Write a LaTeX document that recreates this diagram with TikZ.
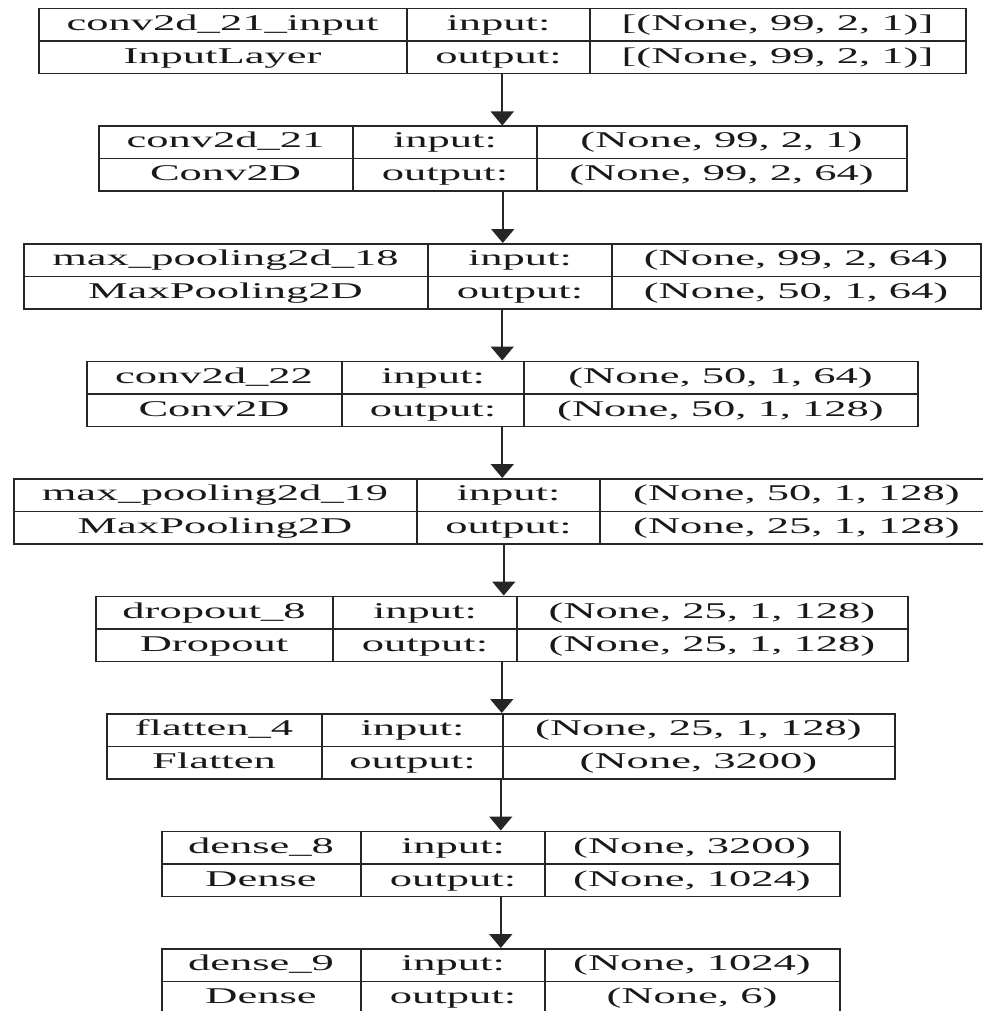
\documentclass[tikz,border=0pt]{standalone}
\usepackage{fontspec}
\setmainfont{Liberation Serif}[FakeStretch=1.98]
\usetikzlibrary{arrows.meta}

\begin{document}
\begin{tikzpicture}[x=1pt,y=-1pt,
    box/.style={draw=black!85,line width=1.5pt,minimum height=65pt,inner sep=0pt,anchor=north west},
    txt/.style={anchor=base,text=black!90,font=\fontsize{22.5}{26}\selectfont,inner sep=0pt},
    arr/.style={draw=black!85,line width=1.8pt,-{Triangle[width=23pt,length=14pt]}}]
  \useasboundingbox (0,0) rectangle (982,1011);
  % one record per layer: left edge, the two dividers, right edge, texts
  \foreach \i/\xl/\xa/\xb/\xr/\nm/\cl/\si/\so in {
      1/38/407/590/965/conv2d\_21\_input/InputLayer/{[(None, 99, 2, 1)]}/{[(None, 99, 2, 1)]},
      2/98/353/537/906/conv2d\_21/Conv2D/{(None, 99, 2, 1)}/{(None, 99, 2, 64)},
      3/23/428/612/980/max\_pooling2d\_18/MaxPooling2D/{(None, 99, 2, 64)}/{(None, 50, 1, 64)},
      4/86/342/524/917/conv2d\_22/Conv2D/{(None, 50, 1, 64)}/{(None, 50, 1, 128)},
      5/13/417/600/993/max\_pooling2d\_19/MaxPooling2D/{(None, 50, 1, 128)}/{(None, 25, 1, 128)},
      6/95/333/517/907/dropout\_8/Dropout/{(None, 25, 1, 128)}/{(None, 25, 1, 128)},
      7/106/322/503/894/flatten\_4/Flatten/{(None, 25, 1, 128)}/{(None, 3200)},
      8/161/361/545/839/dense\_8/Dense/{(None, 3200)}/{(None, 1024)},
      9/161/361/545/839/dense\_9/Dense/{(None, 1024)}/{(None, 6)}}
  {
    \pgfmathsetmacro\ytop{8+117.5*(\i-1)}
    \node[box,minimum width={(\xr-\xl)*1pt}] (L\i) at (\xl,\ytop) {};
    \draw[black!85,line width=1.5pt] (L\i.west) -- (L\i.east)
      (\xa,\ytop) -- ++(0,65) (\xb,\ytop) -- ++(0,65);
    \node[txt] (L\i-nm) at ({(\xl+\xa)/2},\ytop+22.5) {\nm};
    \node[txt] (L\i-cl) at ({(\xl+\xa)/2},\ytop+55.5) {\cl};
    \node[txt] (L\i-ki) at ({(\xa+\xb)/2},\ytop+22.5) {input:};
    \node[txt] (L\i-ko) at ({(\xa+\xb)/2},\ytop+55.5) {output:};
    \node[txt] (L\i-si) at ({(\xb+\xr)/2},\ytop+22.5) {\si};
    \node[txt] (L\i-so) at ({(\xb+\xr)/2},\ytop+55.5) {\so};
  }
  \foreach \i [evaluate=\i as \j using int(\i+1)] in {1,...,8}
    \draw[arr] (L\i.south) -- (L\i.south |- L\j.north);
\end{tikzpicture}
\end{document}
